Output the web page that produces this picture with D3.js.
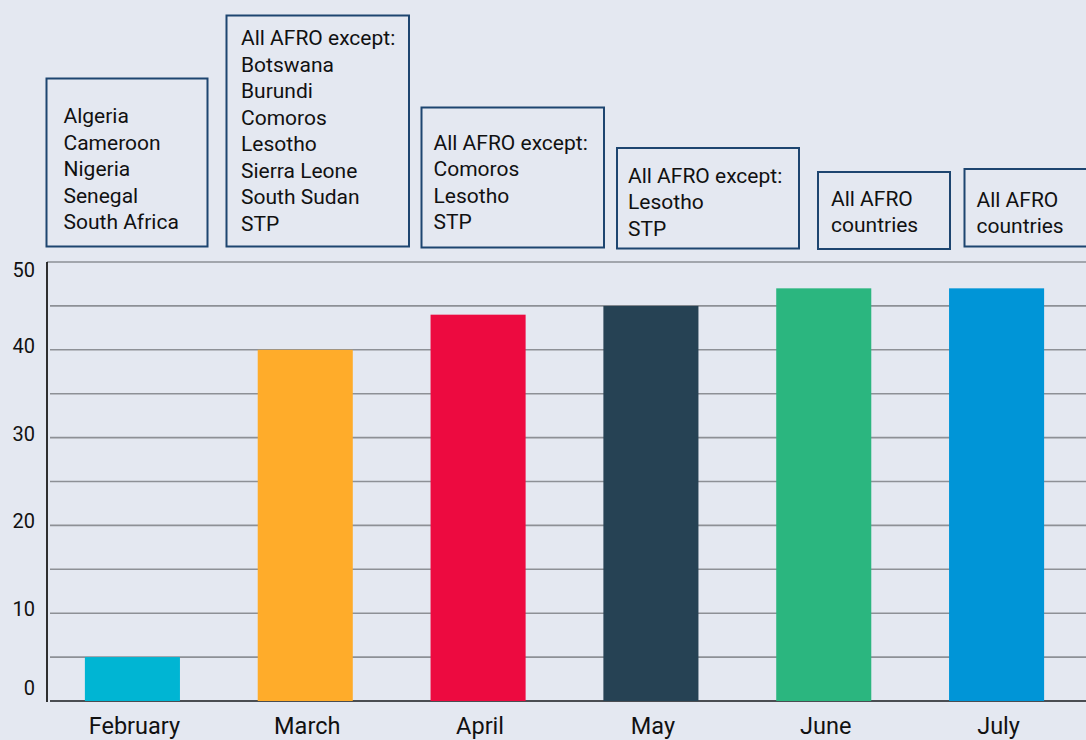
<!DOCTYPE html>
<html>
<head>
<meta charset="utf-8">
<script src="https://cdn.jsdelivr.net/npm/d3@7"></script>
<style>
  html, body { margin: 0; padding: 0; background: #e4e8f1; }
  svg { display: block; font-family: Roboto, "Noto Sans", sans-serif; }
</style>
</head>
<body>
<svg id="chart" width="1086" height="740"></svg>
<script>
// data
months = ['February', 'March', 'April', 'May', 'June', 'July'];
values = [5, 40, 44, 45, 47, 47];
barColors = ['#00b5d3', '#ffac2a', '#ed0a40', '#264254', '#2bb67f', '#0095d7'];
yTickLabels = [0, 10, 20, 30, 40, 50];
gridValues = [0, 5, 10, 15, 20, 25, 30, 35, 40, 45, 50];

boxTexts = [
	['Algeria', 'Cameroon', 'Nigeria', 'Senegal', 'South Africa'],
	['All AFRO except:', 'Botswana', 'Burundi', 'Comoros', 'Lesotho', 'Sierra Leone', 'South Sudan', 'STP'],
	['All AFRO except:', 'Comoros', 'Lesotho', 'STP'],
	['All AFRO except:', 'Lesotho', 'STP'],
	['All AFRO', 'countries'],
	['All AFRO', 'countries']
];

// layout of the annotation boxes (x, y, w, h, text x offset, first baseline offset)
boxLayout = [
	{x: 46.5, y: 78.5, w: 161, h: 168, tx: 17, ty: 44.5},
	{x: 226.5, y: 15.5, w: 182.5, h: 231, tx: 14.5, ty: 29.5},
	{x: 421.5, y: 107.5, w: 182.5, h: 140, tx: 12, ty: 42},
	{x: 617, y: 148, w: 182, h: 100.5, tx: 11, ty: 34.5},
	{x: 818, y: 172, w: 132, h: 77, tx: 13, ty: 33.5},
	{x: 964.5, y: 169, w: 140, h: 77.5, tx: 12, ty: 37.5}
];

width = 1086;
height = 740;
axisX = 47;
lineGap = 26.5;

svg = d3.select('#chart');

x = d3.scaleBand()
	.domain(months)
	.range([46, 1083])
	.paddingInner(0.45)
	.paddingOuter(0.225);

y = d3.scaleLinear()
	.domain([0, 50])
	.range([701, 262]);

function tickShift(d){
	if(d == 50) return 8;
	if(d == 0) return -13;
	return -4;
}

// gridlines
svg.append('g')
	.selectAll('line')
	.data(gridValues)
	.join('line')
		.attr('x1', d => d == 50 ? axisX : axisX + 3)
		.attr('x2', width)
		.attr('y1', d => y(d))
		.attr('y2', d => y(d))
		.attr('stroke', d => d == 0 ? '#4a4d52' : '#8d9096')
		.attr('stroke-width', d => d == 0 ? 2 : 1.6);

// bars
svg.append('g')
	.selectAll('rect')
	.data(values)
	.join('rect')
		.attr('x', (d, i) => x(months[i]))
		.attr('y', d => y(d))
		.attr('width', x.bandwidth())
		.attr('height', d => y(0) - y(d))
		.attr('fill', (d, i) => barColors[i]);

// y axis line
svg.append('line')
	.attr('x1', axisX).attr('x2', axisX)
	.attr('y1', y(50)).attr('y2', y(0) + 1)
	.attr('stroke', '#000')
	.attr('stroke-width', 1.6);

// y tick labels
svg.append('g')
	.selectAll('text')
	.data(yTickLabels)
	.join('text')
		.attr('x', 35)
		.attr('y', d => y(d) + tickShift(d))
		.attr('dy', '0.35em')
		.attr('text-anchor', 'end')
		.attr('font-size', 20)
		.attr('fill', '#111')
		.text(d => d);

// month labels
svg.append('g')
	.selectAll('text')
	.data(months)
	.join('text')
		.attr('x', d => x(d) + x.bandwidth() / 2 + 2)
		.attr('y', 734)
		.attr('text-anchor', 'middle')
		.attr('font-size', 23.5)
		.attr('fill', '#111')
		.text(d => d);

// annotation boxes
boxes = svg.append('g')
	.selectAll('g')
	.data(boxTexts)
	.join('g')
		.attr('transform', (d, i) => `translate(${boxLayout[i].x},${boxLayout[i].y})`);

boxes.append('rect')
	.attr('width', (d, i) => boxLayout[i].w)
	.attr('height', (d, i) => boxLayout[i].h)
	.attr('fill', 'none')
	.attr('stroke', '#1d4570')
	.attr('stroke-width', 2);

boxes.each(function(lines, i){
	let lay = boxLayout[i];
	d3.select(this).selectAll('text')
		.data(lines)
		.join('text')
			.attr('x', lay.tx)
			.attr('y', (d, j) => lay.ty + j * lineGap)
			.attr('font-size', 21)
			.attr('fill', '#111')
			.text(d => d);
});
</script>
</body>
</html>
